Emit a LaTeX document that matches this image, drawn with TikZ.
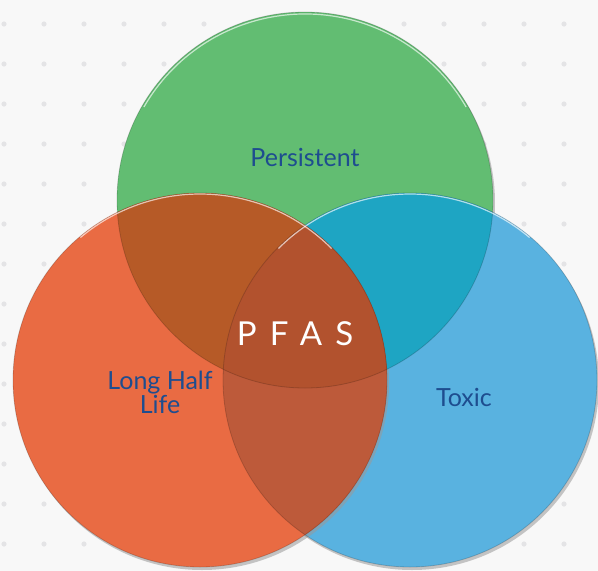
\documentclass[tikz,border=0pt]{standalone}
\usepackage{fontspec}
\setmainfont{Lato}
\definecolor{bgwhite}{HTML}{F8F8F8}
\definecolor{dotgray}{HTML}{E4E4E6}
\definecolor{pgreen}{HTML}{62BD72}
\definecolor{porange}{HTML}{E96B43}
\definecolor{pblue}{HTML}{59B2E0}
\definecolor{greenorange}{HTML}{B65A27}
\definecolor{greenblue}{HTML}{1EA5C3}
\definecolor{orangeblue}{HTML}{BD5A3A}
\definecolor{allthree}{HTML}{B2522E}
\definecolor{labelblue}{HTML}{1E4D8F}
\begin{document}
\begin{tikzpicture}[x=1pt,y=-1pt,
    word/.style={text=labelblue,font=\fontsize{25}{24}\selectfont,inner sep=0pt},
    rim/.style={draw=black,draw opacity=.18,line width=.8pt},
    shine/.style={draw=white,draw opacity=.65,line width=1.2pt},
    shadowring/.style={fill=black!40,fill opacity=.55}]

    \useasboundingbox (0,0) rectangle (598,571);
    \fill[bgwhite] (0,0) rectangle (598,571);
    \foreach \i in {0,...,14} {
        \foreach \j in {0,...,13} {
            \fill[dotgray] (4+\i*40, 24+\j*40) circle[radius=2.6pt];
        }
    }

    \coordinate (cgreen) at (305,200);
    \coordinate (corange) at (200,380);
    \coordinate (cblue) at (410,380);

    % the three sets
    \fill[shadowring] ([shift={(2,3)}]cgreen) circle[radius=188pt];
    \fill[pgreen] (cgreen) circle[radius=188pt];
    \fill[shadowring] ([shift={(2,3)}]cblue) circle[radius=187pt];
    \fill[pblue] (cblue) circle[radius=187pt];
    \fill[shadowring] ([shift={(2,3)}]corange) circle[radius=187pt];
    \fill[porange] (corange) circle[radius=187pt];

    % overlaps
    \begin{scope}
        \clip (cgreen) circle[radius=188pt];
        \fill[greenblue] (cblue) circle[radius=187pt];
        \fill[greenorange] (corange) circle[radius=187pt];
    \end{scope}
    \begin{scope}
        \clip (corange) circle[radius=187pt];
        \fill[orangeblue] (cblue) circle[radius=187pt];
        \clip (cgreen) circle[radius=188pt];
        \fill[allthree] (cblue) circle[radius=187pt];
    \end{scope}

    \draw[rim] (cgreen) circle[radius=188pt];
    \draw[rim] (cblue) circle[radius=187pt];
    \draw[rim] (corange) circle[radius=187pt];
    \draw[shine] ([shift={(-150:186)}]cgreen) arc[start angle=150,end angle=30,radius=186pt];
    \draw[shine] ([shift={(-130:186)}]corange) arc[start angle=130,end angle=45,radius=186pt];
    \draw[shine] ([shift={(-135:186)}]cblue) arc[start angle=135,end angle=50,radius=186pt];

    \node[word,anchor=base] (persistent) at (305,166) {Persistent};
    \node[word,align=center] (halflife) at (160,392) {Long Half\\Life};
    \node[word,anchor=base] (toxic) at (464,406) {Toxic};
    \node[text=white,anchor=base,inner sep=0pt,
        font=\addfontfeatures{LetterSpace=40}\fontsize{33}{34}\selectfont] (pfas) at (295,345) {PFAS};
\end{tikzpicture}
\end{document}
